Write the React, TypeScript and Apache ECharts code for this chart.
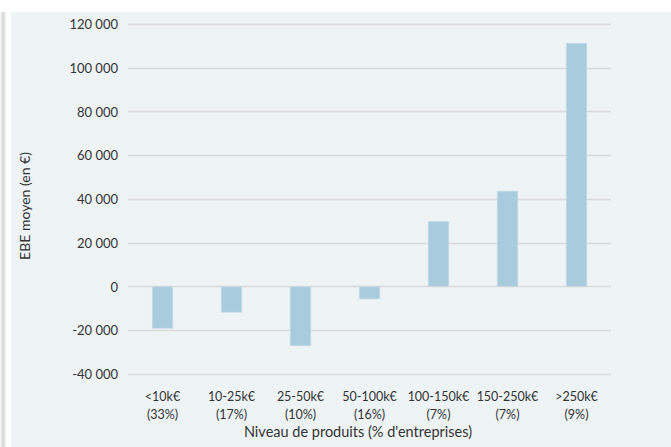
import React, { useEffect, useRef } from "react";
import * as echarts from "echarts";

const categories = ["<10k€\n(33%)", "10-25k€\n(17%)", "25-50k€\n(10%)", "50-100k€\n(16%)", "100-150k€\n(7%)", "150-250k€\n(7%)", ">250k€\n(9%)"];
const ebeValues = [-19200, -11900, -27200, -5800, 29900, 43700, 111300];
const yAxisTitle = "EBE moyen (en €)";
const xAxisTitle = "Niveau de produits (% d'entreprises)";

const fmt = (v: number) => {
  const s = Math.abs(v).toString().replace(/\B(?=(\d{3})+(?!\d))/g, " ");
  return (v < 0 ? "-" : "") + s;
};

export default function App() {
  const ref = useRef<HTMLDivElement>(null);
  useEffect(() => {
    const chart = echarts.init(ref.current!, null, { renderer: "svg" });
    const font = "Lato, 'Noto Sans', sans-serif";
    chart.setOption({
      animation: false,
      backgroundColor: "#ffffff",
      graphic: [
        {
          type: "rect",
          shape: { x: 0, y: 12, width: 7, height: 435 },
          style: {
            fill: new echarts.graphic.LinearGradient(0, 0, 1, 0, [
              { offset: 0, color: "#ffffff" },
              { offset: 0.4, color: "#d6d6d6" },
              { offset: 1, color: "#ffffff" },
            ]),
          },
          z: -10,
        },
        {
          type: "rect",
          shape: { x: 11, y: 12, width: 660, height: 435 },
          style: { fill: "#eef3f6" },
          z: -10,
        },
        {
          type: "text",
          x: 24,
          y: 206,
          rotation: Math.PI / 2,
          style: {
            text: yAxisTitle,
            fill: "#333333",
            font: `14px ${font}`,
            align: "center",
            verticalAlign: "middle",
          },
        },
        {
          type: "text",
          x: 358,
          y: 431,
          style: {
            text: xAxisTitle,
            fill: "#333333",
            font: `14.5px ${font}`,
            align: "center",
            verticalAlign: "middle",
          },
        },
      ],
      grid: { left: 128, right: 60, top: 24, bottom: 73, containLabel: false },
      xAxis: {
        type: "category",
        data: categories,
        axisLine: { show: false, onZero: false },
        axisTick: { show: false },
        axisLabel: {
          color: "#333333",
          fontFamily: font,
          fontSize: 12.5,
          lineHeight: 18,
          margin: 13,
          interval: 0,
        },
      },
      yAxis: {
        type: "value",
        min: -40000,
        max: 120000,
        interval: 20000,
        axisLine: { show: false },
        axisTick: { show: false },
        splitLine: { lineStyle: { color: "#d9d9d9", width: 1.3 } },
        axisLabel: {
          color: "#333333",
          fontFamily: font,
          fontSize: 13,
          margin: 10,
          formatter: (v: number) => fmt(v),
        },
      },
      series: [
        {
          type: "bar",
          data: ebeValues,
          barWidth: 21,
          itemStyle: { color: "#a8cbdd", borderColor: "#c4dce8", borderWidth: 0.6 },
        },
      ],
    });
    return () => chart.dispose();
  }, []);
  return (
    <div
      ref={ref}
      style={{ position: "fixed", left: 0, top: 0, width: 671, height: 447 }}
    />
  );
}
